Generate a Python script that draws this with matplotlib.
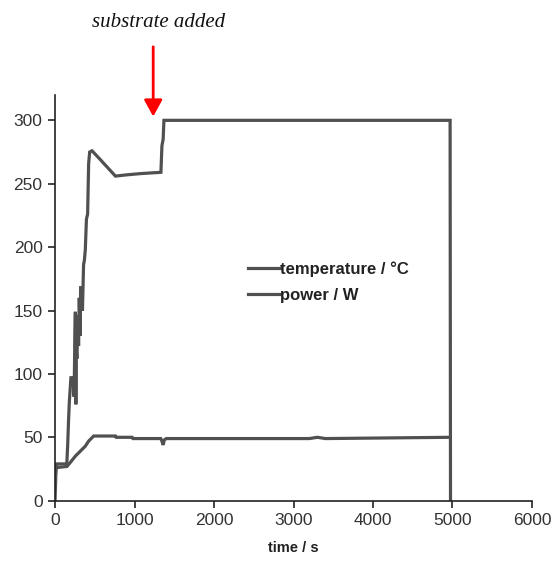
import matplotlib
matplotlib.use("Agg")
import matplotlib.pyplot as plt

# temperature / °C
temp_t = [0, 10, 20, 148, 160, 170, 180, 200, 230, 240, 250, 256, 262, 266, 275, 290,
          296, 305, 317, 322, 338, 345, 359, 370, 381, 395, 410, 423, 436, 465, 570,
          760, 900, 1080, 1332, 1345, 1360, 1370, 4970, 4975]
temp_v = [0, 20, 29, 29, 45, 63, 78, 97, 97, 82, 130, 149, 76, 122, 112, 146,
          122, 160, 130, 168, 168, 150, 186, 190, 198, 222, 226, 266, 275, 276, 269,
          256, 257, 258, 259, 280, 285, 300, 300, 0]

# power / W
power_t = [0, 150, 190, 254, 317, 381, 423, 486, 760, 770, 970, 980, 1330, 1345,
           1360, 1375, 1400, 3200, 3300, 3400, 4970]
power_v = [26, 27, 30, 35, 39, 43, 47, 51, 51, 50, 50, 49, 49, 47,
           44, 48, 49, 49, 50, 49, 50]

x_ticks = [0, 1000, 2000, 3000, 4000, 5000, 6000]
y_ticks = [0, 50, 100, 150, 200, 250, 300]

line_color = "#505050"

fig = plt.figure(figsize=(5.53, 5.61), dpi=100)
ax = fig.add_axes([0.0995, 0.1075, 0.8625, 0.7232])

ax.plot(temp_t, temp_v, color=line_color, lw=2.3, label="temperature / °C",
        solid_joinstyle="miter")
ax.plot(power_t, power_v, color=line_color, lw=2.3, label="power / W",
        solid_joinstyle="miter")

ax.set_xlim(0, 6000)
ax.set_ylim(0, 320)
ax.set_xticks(x_ticks)
ax.set_yticks(y_ticks)
for s in ["top", "right"]:
    ax.spines[s].set_visible(False)
for s in ["left", "bottom"]:
    ax.spines[s].set_color("#222222")
    ax.spines[s].set_linewidth(1.2)
ax.tick_params(axis="both", direction="out", length=5, width=1.2, color="#222222",
               labelsize=12.5, labelcolor="#333333", pad=4)
for lab in ax.get_xticklabels() + ax.get_yticklabels():
    lab.set_family("Liberation Sans")

ax.set_xlabel("time / s", fontsize=10.5, fontweight="bold", family="Liberation Sans",
              color="#222222", labelpad=9)

leg = ax.legend(loc="upper left", bbox_to_anchor=(0.405, 0.590), frameon=False,
                handlelength=1.9, handletextpad=0.0, labelspacing=0.65, borderpad=0,
                borderaxespad=0,
                prop={"family": "Liberation Sans", "weight": "bold", "size": 12})
for t in leg.get_texts():
    t.set_color("#222222")

# annotation arrow
ax.annotate("", xy=(1235, 303), xytext=(1235, 358), xycoords="data",
            annotation_clip=False,
            arrowprops=dict(arrowstyle="-|>,head_length=1.0,head_width=0.55",
                            color="#ff0000", lw=2, shrinkA=0, shrinkB=0))
fig.text(0.2875, 0.952, "substrate added", family="Liberation Serif", style="italic",
         fontsize=15, ha="center", va="baseline", color="#111111")

fig.savefig("out.png", dpi=100)
